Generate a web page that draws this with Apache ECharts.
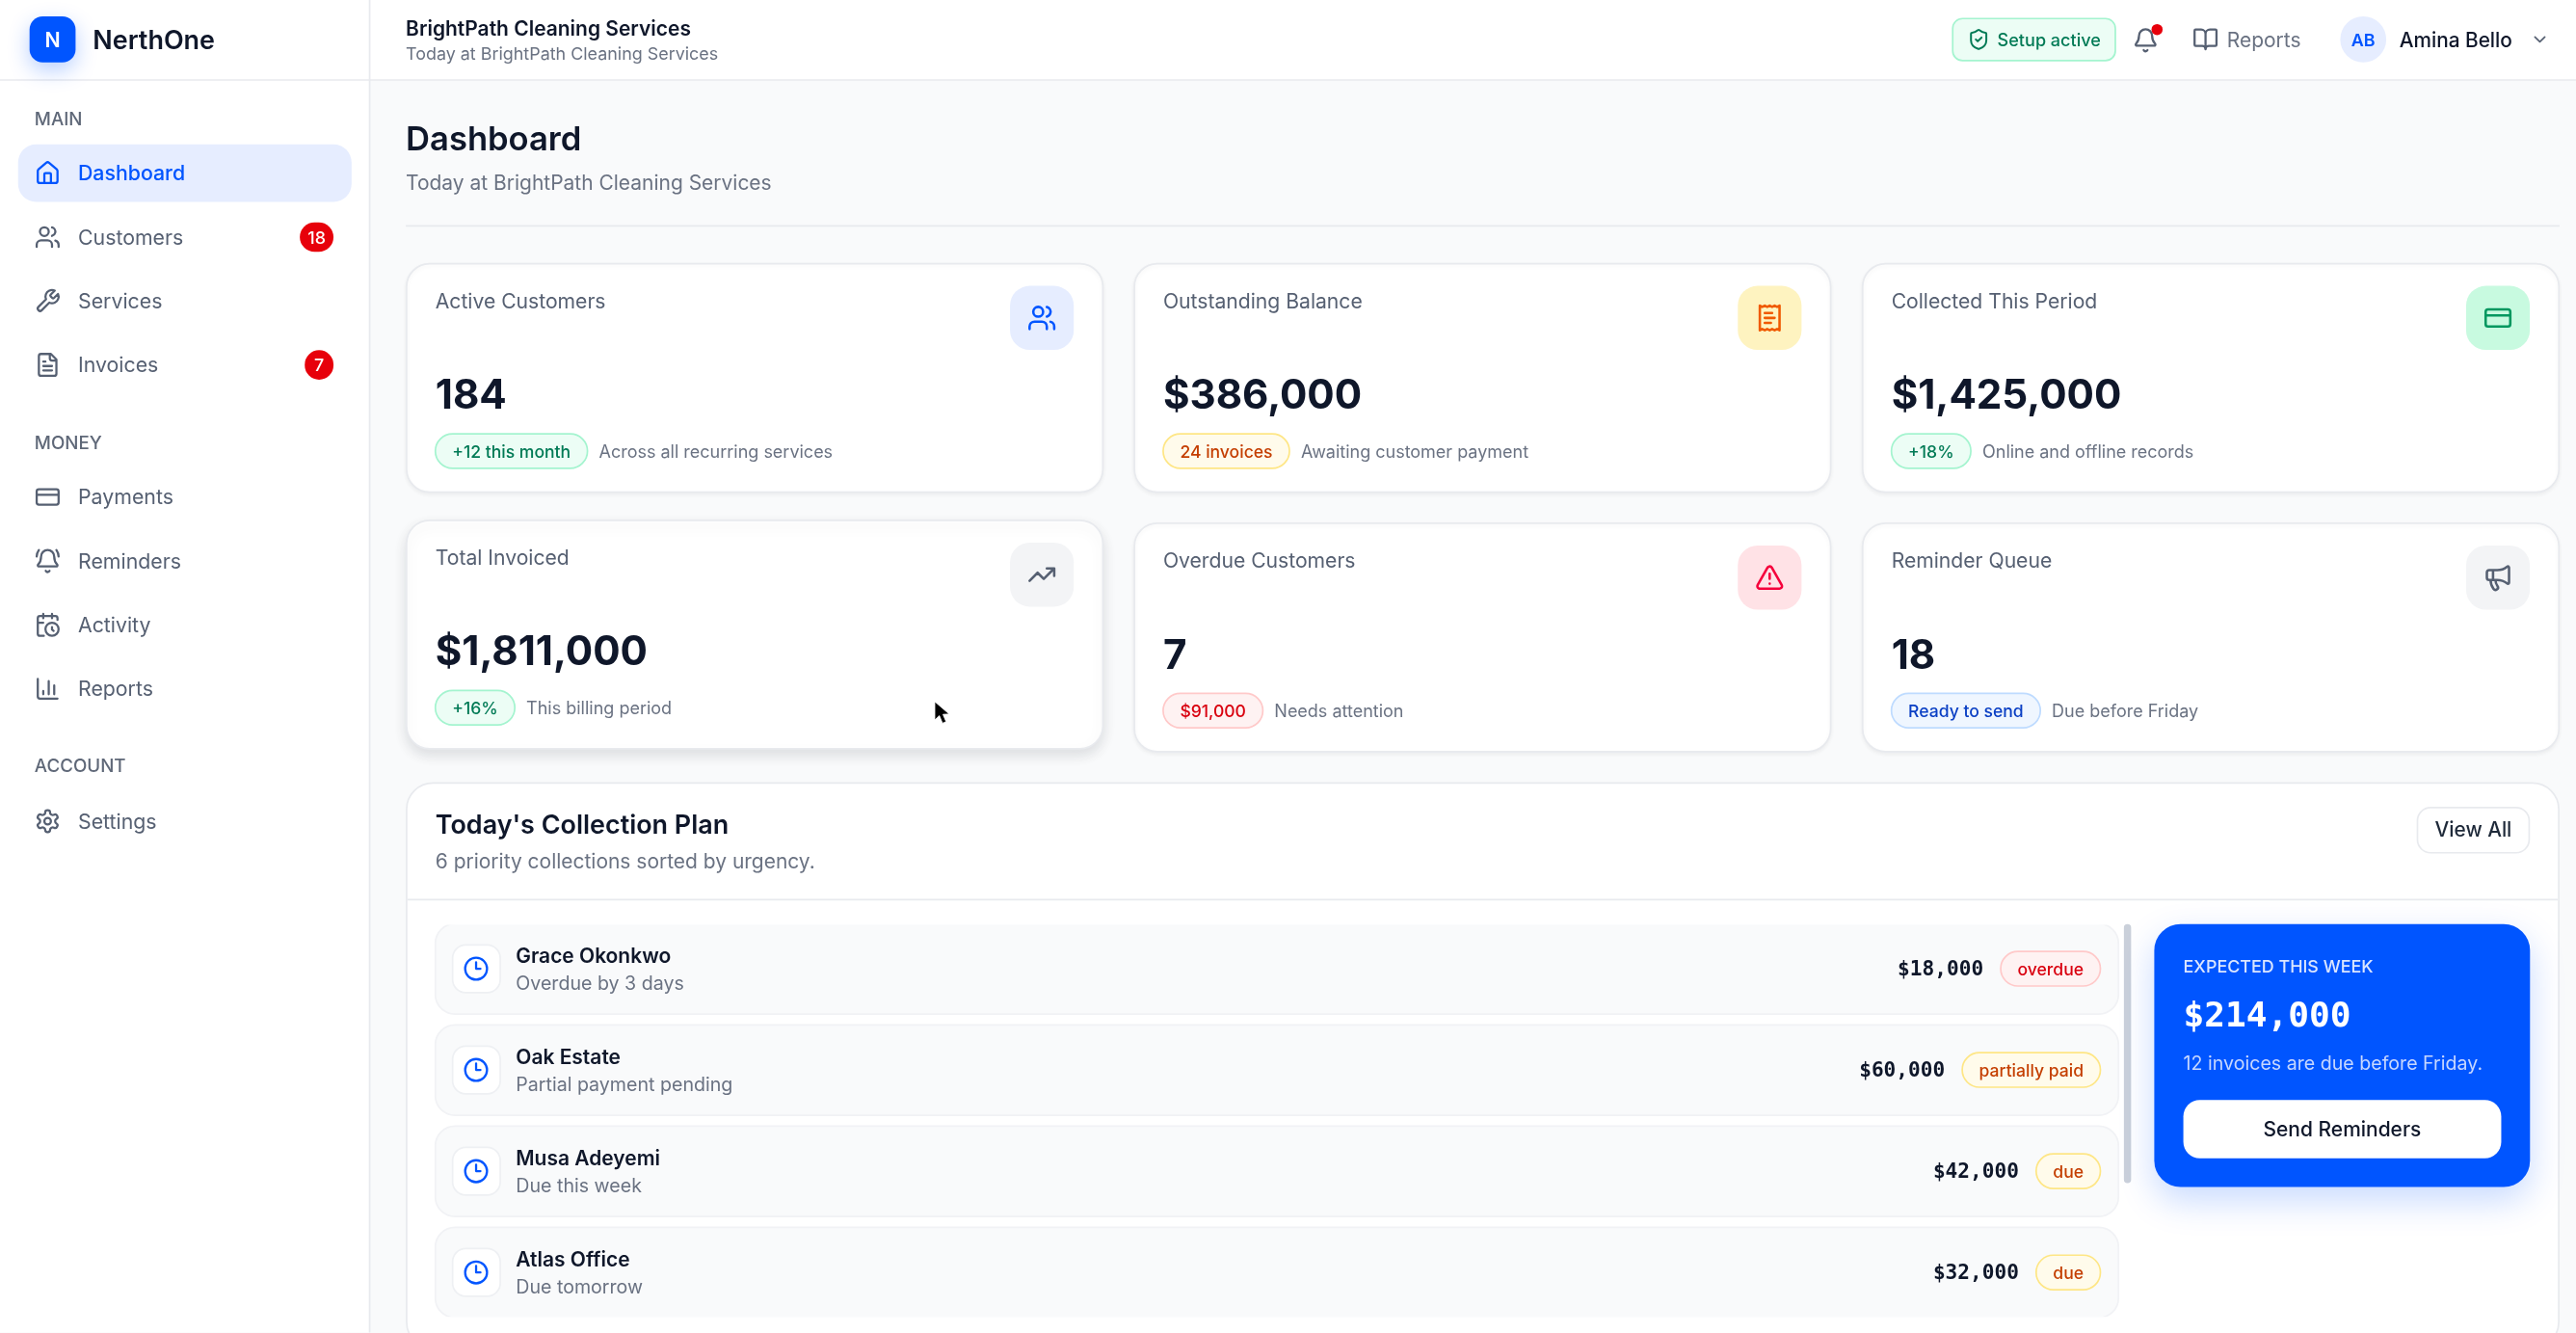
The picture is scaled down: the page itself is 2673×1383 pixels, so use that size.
<!doctype html>
<html>
<head>
    <meta charset="utf-8">
    <title>Dashboard</title>
    <style>
        html, body { margin: 0; padding: 0; background: #f9fafb; }
        #container { width: 2673px; height: 1383px; }
    </style>
    <script type="text/javascript" src="https://cdn.jsdelivr.net/npm/echarts@6/dist/echarts.min.js"></script>
</head>
<body>
<div id="container"></div>
<script type="text/javascript">
    /* page content */
    var brandName = 'NerthOne';
    var companyName = 'BrightPath Cleaning Services';
    var companyNote = 'Today at BrightPath Cleaning Services';
    var userName = 'Amina Bello';
    var userInitials = 'AB';

    var navMain = ['Dashboard', 'Customers', 'Services', 'Invoices'];
    var navMainBadges = [null, 18, null, 7];
    var navMoney = ['Payments', 'Reminders', 'Activity', 'Reports'];
    var navAccount = ['Settings'];

    var kpiTitles = ['Active Customers', 'Outstanding Balance', 'Collected This Period', 'Total Invoiced', 'Overdue Customers', 'Reminder Queue'];
    var kpiValues = ['184', '$386,000', '$1,425,000', '$1,811,000', '7', '18'];
    var kpiBadges = ['+12 this month', '24 invoices', '+18%', '+16%', '$91,000', 'Ready to send'];
    var kpiNotes = ['Across all recurring services', 'Awaiting customer payment', 'Online and offline records', 'This billing period', 'Needs attention', 'Due before Friday'];

    var planNames = ['Grace Okonkwo', 'Oak Estate', 'Musa Adeyemi', 'Atlas Office'];
    var planNotes = ['Overdue by 3 days', 'Partial payment pending', 'Due this week', 'Due tomorrow'];
    var planAmounts = ['$18,000', '$60,000', '$42,000', '$32,000'];
    var planStatuses = ['overdue', 'partially paid', 'due', 'due'];

    /* lucide style icons, 24 box */
    var icons = {
        home: 'M15 21v-8a1 1 0 0 0-1-1h-4a1 1 0 0 0-1 1v8M3 10a2 2 0 0 1 .709-1.528l7-5.999a2 2 0 0 1 2.582 0l7 5.999A2 2 0 0 1 21 10v9a2 2 0 0 1-2 2H5a2 2 0 0 1-2-2z',
        users: 'M16 21v-2a4 4 0 0 0-4-4H6a4 4 0 0 0-4 4v2M5 7a4 4 0 1 0 8 0a4 4 0 1 0-8 0M22 21v-2a4 4 0 0 0-3-3.87M16 3.13a4 4 0 0 1 0 7.75',
        wrench: 'M14.7 6.3a1 1 0 0 0 0 1.4l1.6 1.6a1 1 0 0 0 1.4 0l3.77-3.77a6 6 0 0 1-7.94 7.94l-6.91 6.91a2.12 2.12 0 0 1-3-3l6.91-6.91a6 6 0 0 1 7.94-7.94l-3.76 3.76z',
        file: 'M15 2H6a2 2 0 0 0-2 2v16a2 2 0 0 0 2 2h12a2 2 0 0 0 2-2V7ZM14 2v4a2 2 0 0 0 2 2h4M10 9H8M16 13H8M16 17H8',
        card: 'M4 5h16a2 2 0 0 1 2 2v10a2 2 0 0 1-2 2H4a2 2 0 0 1-2-2V7a2 2 0 0 1 2-2zM2 10h20',
        bellRing: 'M10.268 21a2 2 0 0 0 3.464 0M22 8c0-2.3-.8-4.3-2-6M3.262 15.326A1 1 0 0 0 4 17h16a1 1 0 0 0 .74-1.673C19.41 13.956 18 12.499 18 8A6 6 0 0 0 6 8c0 4.499-1.411 5.956-2.738 7.326M4 2C2.8 3.7 2 5.7 2 8',
        calendar: 'M21 7.5V6a2 2 0 0 0-2-2H5a2 2 0 0 0-2 2v14a2 2 0 0 0 2 2h3.5M16 2v4M8 2v4M3 10h5M17.5 17.5 16 16.3V14M10 16a6 6 0 1 0 12 0a6 6 0 1 0-12 0',
        chart: 'M3 3v16a2 2 0 0 0 2 2h16M18 17V9M13 17V5M8 17v-3',
        gear: 'M12.22 2h-.44a2 2 0 0 0-2 2v.18a2 2 0 0 1-1 1.73l-.43.25a2 2 0 0 1-2 0l-.15-.08a2 2 0 0 0-2.73.73l-.22.38a2 2 0 0 0 .73 2.73l.15.1a2 2 0 0 1 1 1.72v.51a2 2 0 0 1-1 1.74l-.15.09a2 2 0 0 0-.73 2.73l.22.38a2 2 0 0 0 2.73.73l.15-.08a2 2 0 0 1 2 0l.43.25a2 2 0 0 1 1 1.73V20a2 2 0 0 0 2 2h.44a2 2 0 0 0 2-2v-.18a2 2 0 0 1 1-1.73l.43-.25a2 2 0 0 1 2 0l.15.08a2 2 0 0 0 2.73-.73l.22-.39a2 2 0 0 0-.73-2.73l-.15-.08a2 2 0 0 1-1-1.74v-.5a2 2 0 0 1 1-1.74l.15-.09a2 2 0 0 0 .73-2.73l-.22-.38a2 2 0 0 0-2.73-.73l-.15.08a2 2 0 0 1-2 0l-.43-.25a2 2 0 0 1-1-1.73V4a2 2 0 0 0-2-2zM9 12a3 3 0 1 0 6 0a3 3 0 1 0-6 0',
        receipt: 'M4 2v20l2-1 2 1 2-1 2 1 2-1 2 1 2-1 2 1V2l-2 1-2-1-2 1-2-1-2 1-2-1-2 1ZM14 8H8M16 12H8M13 16H8',
        trend: 'M22 7 13.5 15.5 8.5 10.5 2 17M16 7h6v6',
        alert: 'M21.73 18l-8-14a2 2 0 0 0-3.48 0l-8 14A2 2 0 0 0 4 21h16a2 2 0 0 0 1.73-3M12 9v4M12 17h.01',
        megaphone: 'M11 6a13 13 0 0 0 8.4-2.8A1 1 0 0 1 21 4v12a1 1 0 0 1-1.6.8A13 13 0 0 0 11 14H5a2 2 0 0 1-2-2V8a2 2 0 0 1 2-2zM6 14a12 12 0 0 0 2.4 7.2 2 2 0 0 0 3.2-2.4A8 8 0 0 1 10 14M8 6v8',
        clock: 'M2 12a10 10 0 1 0 20 0a10 10 0 1 0-20 0M12 6v6h4',
        shield: 'M20 13c0 5-3.5 7.5-7.66 8.95a1 1 0 0 1-.67-.01C7.5 20.5 4 18 4 13V6a1 1 0 0 1 1-1c2 0 4.5-1.2 6.24-2.72a1.17 1.17 0 0 1 1.52 0C14.51 3.81 17 5 19 5a1 1 0 0 1 1 1zM9 12l2 2 4-4',
        bell: 'M10.268 21a2 2 0 0 0 3.464 0M3.262 15.326A1 1 0 0 0 4 17h16a1 1 0 0 0 .74-1.673C19.41 13.956 18 12.499 18 8A6 6 0 0 0 6 8c0 4.499-1.411 5.956-2.738 7.326',
        book: 'M12 7v14M3 18a1 1 0 0 1-1-1V4a1 1 0 0 1 1-1h5a4 4 0 0 1 4 4 4 4 0 0 1 4-4h5a1 1 0 0 1 1 1v13a1 1 0 0 1-1 1h-6a3 3 0 0 0-3 3 3 3 0 0 0-3-3z',
        chevron: 'M6 9l6 6 6-6',
        cursor: 'M0 0L0 11.2L2.8 8.6L4.7 13.2L6.9 12.2L5 7.8L8.8 7.6Z'
    };
    // the graphic component has no plain path type, so each icon is registered as a shape
    Object.keys(icons).forEach(function (name) {
        echarts.graphic.registerShape('ic_' + name, echarts.graphic.extendPath(icons[name], {}));
    });

    var S = 2673 / 1568;
    var SANS = 'Inter';
    var MONO = '"DejaVu Sans Mono"';
    var INK = '#0f172a', GREY = '#6a7282', NAVGREY = '#566072', BLUE = '#0055ff', LINE = '#e8eaee';

    var tones = {
        green: {fill: '#ecfdf5', line: '#a4f4cf', text: '#007a55'},
        amber: {fill: '#fffbeb', line: '#fee685', text: '#c43e00'},
        red: {fill: '#fef2f2', line: '#ffc9c9', text: '#d9000f'},
        blue: {fill: '#eff6ff', line: '#bedbff', text: '#0a3fc4'}
    };
    var kpiTiles = [
        {icon: 'users', fill: '#e6edff', color: BLUE, tone: 'green'},
        {icon: 'receipt', fill: '#fef3c0', color: '#f05a00', tone: 'amber'},
        {icon: 'card', fill: '#c8fae0', color: '#00975f', tone: 'green'},
        {icon: 'trend', fill: '#f3f4f6', color: NAVGREY, tone: 'green'},
        {icon: 'alert', fill: '#ffe2e6', color: '#f5003b', tone: 'red'},
        {icon: 'megaphone', fill: '#f3f4f6', color: NAVGREY, tone: 'blue'}
    ];
    var statusTones = {overdue: 'red', 'partially paid': 'amber', due: 'amber'};
    var navIcons = {
        Dashboard: 'home', Customers: 'users', Services: 'wrench', Invoices: 'file',
        Payments: 'card', Reminders: 'bellRing', Activity: 'calendar', Reports: 'chart', Settings: 'gear'
    };

    var items = [];
    var measureCtx = document.createElement('canvas').getContext('2d');

    function textWidth(str, size, weight, family) {
        measureCtx.font = weight + ' ' + size + 'px ' + (family || SANS);
        return measureCtx.measureText(str).width;
    }

    function box(x, y, w, h, r, fill, line, extra) {
        var style = {fill: fill};
        if (line) {
            style.stroke = line;
            style.lineWidth = 1;
        }
        for (var k in (extra || {})) {
            style[k] = extra[k];
        }
        items.push({type: 'rect', shape: {x: x, y: y, width: w, height: h, r: r}, style: style});
    }

    function label(x, y, str, size, weight, color, align, family) {
        items.push({
            type: 'text',
            style: {
                // canvas middle sits a little high against the browser's line box
                text: str, x: x, y: y + 0.8, fill: color,
                fontSize: size, fontWeight: weight, fontFamily: family || SANS,
                textAlign: align || 'left', textVerticalAlign: 'middle'
            }
        });
    }

    // icon centred on cx,cy
    function icon(name, cx, cy, size, color) {
        var k = size / 24;
        items.push({
            type: 'ic_' + name,
            x: cx - size / 2, y: cy - size / 2, scaleX: k, scaleY: k,
            style: {fill: 'none', stroke: color, lineWidth: 2, lineCap: 'round', lineJoin: 'round'}
        });
    }

    function pill(x, cy, str, toneName) {
        var t = tones[toneName];
        var w = textWidth(str, 10.3, 500) + 20.5;
        box(x, cy - 10.5, w, 21, 10.5, t.fill, t.line);
        label(x + w / 2, cy, str, 10.3, 500, t.text, 'center');
        return w;
    }

    function drawNav(names, badges, startY) {
        names.forEach(function (name, i) {
            var y = startY + i * 38.9;
            var active = name === 'Dashboard';
            if (active) {
                box(11, y - 17.5, 203, 35, 11, '#e6edff');
            }
            icon(navIcons[name], 29, y, 16, active ? BLUE : NAVGREY);
            label(47.5, y, name, 12.5, active ? 500 : 400, active ? BLUE : NAVGREY);
            if (badges && badges[i] !== null) {
                var w = String(badges[i]).length > 1 ? 20.5 : 17.5;
                box(203 - w, y - 9, w, 18, 9, '#e7000b');
                label(203 - w / 2, y, String(badges[i]), 10.5, 500, '#fff', 'center');
            }
        });
    }

    function drawSidebar() {
        box(0, 0, 225, 811, 0, '#fff');
        box(224.5, 0, 1, 811, 0, LINE);
        label(21, 72, 'MAIN', 11, 500, '#5f6878');
        drawNav(navMain, navMainBadges, 105.4);
        label(21, 269, 'MONEY', 11, 500, '#5f6878');
        drawNav(navMoney, null, 302.5);
        label(21, 466, 'ACCOUNT', 11, 500, '#5f6878');
        drawNav(navAccount, null, 499.8);
    }

    function drawHeader() {
        box(0, 0, 1568, 48.5, 0, '#fff');
        box(0, 48.2, 1568, 1, 0, LINE);
        box(224.5, 0, 1, 49, 0, LINE);
        box(18, 10, 28, 28, 8, BLUE, null, {shadowColor: 'rgba(0,85,255,0.28)', shadowBlur: 22, shadowOffsetY: 8});
        label(32, 24.2, 'N', 12.5, 600, '#fff', 'center');
        label(56.5, 24.2, brandName, 15.8, 600, INK);

        label(247, 17, companyName, 12.3, 600, INK);
        label(247, 32.5, companyNote, 10.5, 400, GREY);

        box(1188.6, 11.3, 99, 25.6, 6, tones.green.fill, tones.green.line);
        icon('shield', 1204.4, 24, 14, tones.green.text);
        label(1215.8, 24, 'Setup active', 10.6, 500, tones.green.text);

        icon('bell', 1306, 24.5, 16, NAVGREY);
        items.push({type: 'circle', shape: {cx: 1313, cy: 18, r: 3.4}, style: {fill: '#e7000b'}});
        icon('book', 1342.5, 24, 16, NAVGREY);
        label(1355.5, 24.2, 'Reports', 12.3, 400, GREY);

        items.push({type: 'circle', shape: {cx: 1438.5, cy: 24, r: 14}, style: {fill: '#e6edff'}});
        label(1438.5, 24, userInitials, 10.5, 600, BLUE, 'center');
        label(1460.5, 24.2, userName, 12.2, 500, INK);
        icon('chevron', 1546, 24, 12, NAVGREY);
    }

    function drawTitle() {
        label(247, 84.8, 'Dashboard', 20.3, 600, INK);
        label(247, 111, companyNote, 12.3, 400, GREY);
        box(247, 137, 1311, 1, 0, LINE);
    }

    function drawCards() {
        var colX = [247, 690, 1133.3];
        kpiTitles.forEach(function (title, i) {
            var x = colX[i % 3];
            var y = i < 3 ? 160 : (i === 3 ? 316.2 : 318);
            var hovered = i === 3;
            var t = kpiTiles[i];
            box(x + 0.5, y + 0.5, 423.8, 139, 14, '#fff', LINE, hovered ?
                {shadowColor: 'rgba(15,23,42,0.12)', shadowBlur: 14, shadowOffsetY: 6} :
                {shadowColor: 'rgba(15,23,42,0.05)', shadowBlur: 4, shadowOffsetY: 2});
            label(x + 18, y + 23, title, 12.4, 400, NAVGREY);
            box(x + 367.8, y + 14, 38.8, 39, 12, t.fill);
            icon(t.icon, x + 387.2, y + 33.5, 18, t.color);
            label(x + 18, y + 80.6, kpiValues[i], 24.7, 700, INK);
            var w = pill(x + 18, y + 114.5, kpiBadges[i], t.tone);
            label(x + 18 + w + 7, y + 114.5, kpiNotes[i], 10.55, 400, GREY);
        });
    }

    function drawPlan() {
        box(247.5, 476.5, 1310, 344, 16, '#fff', LINE);
        label(265, 501.6, "Today's Collection Plan", 15.8, 600, INK);
        label(265, 524, '6 priority collections sorted by urgency.', 12.3, 400, GREY);
        box(1471.5, 491.5, 68, 27.5, 8, '#fff', LINE);
        label(1505.5, 505, 'View All', 12.2, 500, '#1e2939', 'center');
        box(248, 547, 1309, 1, 0, LINE);

        planNames.forEach(function (name, i) {
            var y = 562.2 + i * 61.6;
            var cy = y + 27.4;
            box(265, y, 1024.5, 55, 12, '#f9fafb', '#f1f2f5');
            box(275.5, cy - 14.5, 29, 29, 8, '#fff', '#eef0f3');
            icon('clock', 289.8, cy, 16, BLUE);
            label(314, cy - 8, name, 12.3, 600, INK);
            label(314, cy + 8.5, planNotes[i], 11.5, 400, GREY);

            var status = planStatuses[i];
            var w = textWidth(status, 10.3, 500) + 20.5;
            pill(1278.5 - w, cy, status, statusTones[status]);
            label(1278.5 - w - 10.5, cy, planAmounts[i], 12.4, 700, INK, 'right', MONO);
        });
        // list scrolls, first and last rows are cut off
        box(262, 558, 1030, 4.8, 0, '#fff');
        box(262, 801.4, 1030, 12, 0, '#fff');
        box(1292.8, 562.4, 4.4, 157.6, 2.2, '#cad0da');

        box(1311.3, 562.4, 228.7, 160, 16, BLUE, null, {shadowColor: 'rgba(0,85,255,0.22)', shadowBlur: 36, shadowOffsetY: 14});
        label(1329, 588.2, 'EXPECTED THIS WEEK', 10.5, 500, '#dbe6ff');
        label(1329, 618.6, '$214,000', 21.2, 700, '#fff', 'left', MONO);
        label(1329, 647, '12 invoices are due before Friday.', 11.5, 400, '#c6d7ff');
        box(1329, 669.5, 193.5, 35.5, 10, '#fff');
        label(1425.7, 687.2, 'Send Reminders', 12.3, 500, INK, 'center');
    }

    // pointer left in the screenshot
    function drawCursor() {
        items.push({
            type: 'ic_cursor',
            x: 569, y: 427, scaleX: 1, scaleY: 1,
            style: {fill: '#000', stroke: '#fff', lineWidth: 0.5}
        });
    }

    box(0, 0, 1568, 811, 0, '#f9fafb');
    drawTitle();
    drawCards();
    drawPlan();
    drawCursor();
    drawSidebar();
    drawHeader();

    var myChart = echarts.init(document.getElementById('container'));
    myChart.setOption({
        animation: false,
        graphic: {
            elements: [{type: 'group', x: 0, y: 0, scaleX: S, scaleY: S, children: items}]
        }
    });
</script>
</body>
</html>
